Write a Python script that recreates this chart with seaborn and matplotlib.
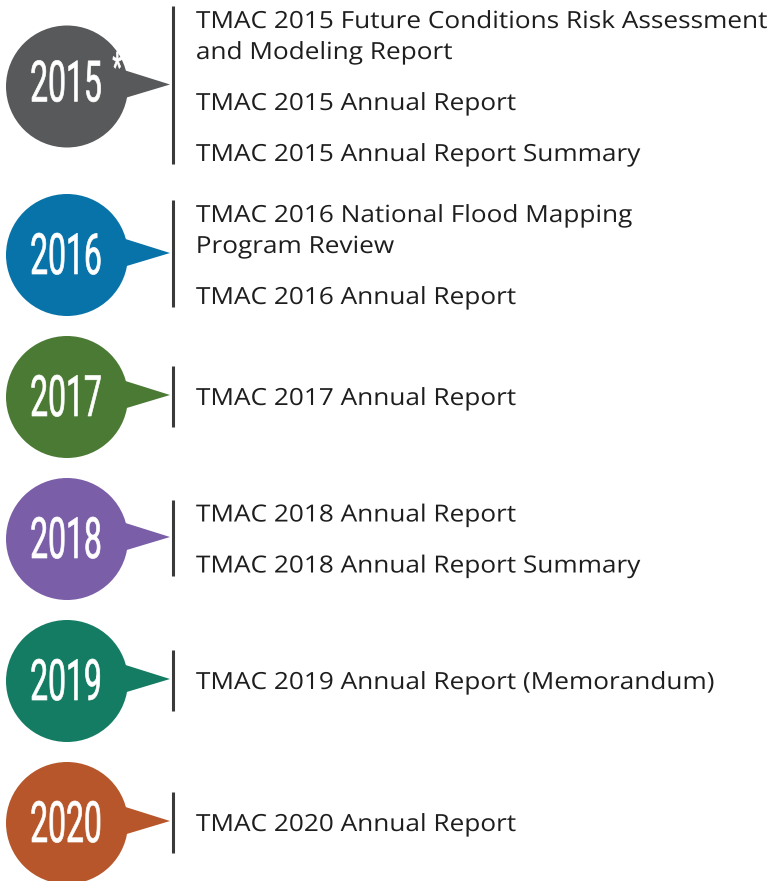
import matplotlib
matplotlib.use("Agg")
import matplotlib.pyplot as plt
import seaborn as sns
import pandas as pd
from matplotlib.patheffects import AbstractPathEffect
from matplotlib.transforms import Affine2D

# -----------------------------------
# data
# -----------------------------------
years = ["2015", "2016", "2017", "2018", "2019", "2020"]
year_notes = ["*", "", "", "", "", ""]
reports = [
    ["TMAC 2015 Future Conditions Risk Assessment\nand Modeling Report",
     "TMAC 2015 Annual Report",
     "TMAC 2015 Annual Report Summary"],
    ["TMAC 2016 National Flood Mapping\nProgram Review",
     "TMAC 2016 Annual Report"],
    ["TMAC 2017 Annual Report"],
    ["TMAC 2018 Annual Report",
     "TMAC 2018 Annual Report Summary"],
    ["TMAC 2019 Annual Report (Memorandum)"],
    ["TMAC 2020 Annual Report"],
]

# -----------------------------------
# style
# -----------------------------------
palette = {
    "2015": "#58595b",
    "2016": "#0773a9",
    "2017": "#4b7a34",
    "2018": "#7a5ea8",
    "2019": "#137c63",
    "2020": "#b6562a",
}
text_color = "#1e1e1e"
rule_color = "#3a3a3a"

W, H = 774, 881
circle_x = 67
radius = 61
text_x = 196
rule_x = 173
wrap_step = 31      # between wrapped lines of one report
item_step = 51      # between reports
group_gap = 61      # min gap between groups of text
circle_step = 142   # min distance between circle centers


class Stretch(AbstractPathEffect):
    """scale text horizontally about its left edge (fake condensed / wide face)"""

    def __init__(self, sx, stroke=0.0):
        super().__init__()
        self.sx = sx
        self.stroke = stroke

    def draw_path(self, renderer, gc, tpath, affine, rgbFace=None):
        x0 = affine.transform_path(tpath).get_extents().x0
        tr = affine + Affine2D().translate(-x0, 0).scale(self.sx, 1).translate(x0, 0)
        if self.stroke:
            gc0 = renderer.new_gc()
            gc0.copy_properties(gc)
            gc0.set_linewidth(self.stroke)
            gc0.set_foreground(rgbFace)
            renderer.draw_path(gc0, tpath, tr, rgbFace)
            gc0.restore()
        else:
            renderer.draw_path(gc, tpath, tr, rgbFace)


# -----------------------------------
# layout: line offsets per group, then group centers
# -----------------------------------
offsets = []
for items in reports:
    pos, y = [], 0
    for item in items:
        for k, line in enumerate(item.split("\n")):
            if k > 0:
                y += wrap_step
            pos.append((y, line))
        y += item_step
    offsets.append(pos)

halves = [(p[-1][0] - p[0][0]) / 2 for p in offsets]
centers = [20 + halves[0]]
for i in range(1, len(years)):
    step = max(circle_step, halves[i - 1] + halves[i] + group_gap)
    centers.append(centers[-1] + step)

df = pd.DataFrame({"year": years, "x": [circle_x] * len(years), "y": centers})

# -----------------------------------
# plot
# -----------------------------------
sns.set_theme(style="white")
fig = plt.figure(figsize=(W / 100, H / 100), dpi=100)
ax = fig.add_axes([0, 0, 1, 1])
ax.set_xlim(0, W)
ax.set_ylim(H, 0)
ax.set_aspect("equal")
ax.axis("off")

# bubble tails
for yr, cy in zip(years, centers):
    ax.fill([circle_x + 33, circle_x + 103, circle_x + 33],
            [cy - 24, cy - 2, cy + 19],
            color=palette[yr], lw=0, zorder=1)

# circles
size = (2 * radius * 72 / 100) ** 2
sns.scatterplot(data=df, x="x", y="y", hue="year", palette=palette,
                s=size, linewidth=0, legend=False, ax=ax, zorder=2)

# year labels (note as superscript in the same text)
for yr, note, cy in zip(years, year_notes, centers):
    if note:
        label = r"$\mathregular{" + yr + r"^{\;" + note + "}}$"
        y = cy + 15
    else:
        label, y = yr, cy + 19
    ax.text(circle_x - 38, y, label, color="white", fontsize=41,
            family="Roboto", ha="left", va="baseline", zorder=3,
            path_effects=[Stretch(0.56, stroke=0.5)])

# rules and report titles
for cy, half, pos in zip(centers, halves, offsets):
    first = cy - half
    last = cy + half
    y0 = min(first - 14, cy - 31)
    y1 = max(last + 11, cy + 30)
    ax.plot([rule_x, rule_x], [y0, y1], color=rule_color, lw=2.2,
            solid_capstyle="butt")
    for off, line in pos:
        ax.text(text_x, first + off + 8, line, color=text_color, fontsize=17,
                family="Open Sans", ha="left", va="baseline",
                path_effects=[Stretch(1.11)])

fig.savefig("out.png", dpi=100)
